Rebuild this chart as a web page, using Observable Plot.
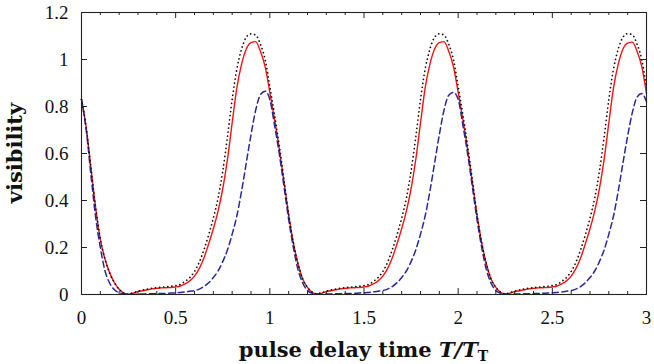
<!DOCTYPE html>
<html>
<head>
<meta charset="utf-8">
<script src="https://cdn.jsdelivr.net/npm/d3@7"></script>
<script src="https://cdn.jsdelivr.net/npm/@observablehq/plot@0.6"></script>
<style>
  html, body { margin: 0; padding: 0; background: #fff; }
</style>
</head>
<body>
<div id="chart"></div>
<script>
// sample spacing of the read-off curves (pulse delay time T/T_T)
const xStep = 0.025;

// solid red curve, values at T/T_T = 0, 0.025, ..., 3
const redVis = [
  0.83, 0.71, 0.54, 0.37, 0.235, 0.15, 0.092, 0.05, 0.022, 0.006,
  0.001, 0.006, 0.012, 0.016, 0.02, 0.024, 0.026, 0.028, 0.029, 0.03,
  0.032, 0.036, 0.045, 0.058, 0.078, 0.11, 0.155, 0.215, 0.28, 0.355,
  0.45, 0.575, 0.73, 0.88, 0.98, 1.045, 1.072, 1.076, 1.035, 0.97,
  0.86, 0.745, 0.62, 0.48, 0.34, 0.22, 0.13, 0.065, 0.03, 0.009,
  0.002, 0.006, 0.012, 0.016, 0.02, 0.024, 0.026, 0.028, 0.029, 0.03,
  0.032, 0.036, 0.045, 0.058, 0.078, 0.11, 0.155, 0.215, 0.28, 0.355,
  0.45, 0.575, 0.73, 0.88, 0.98, 1.045, 1.072, 1.076, 1.035, 0.97,
  0.86, 0.745, 0.62, 0.48, 0.34, 0.22, 0.13, 0.065, 0.03, 0.009,
  0.002, 0.006, 0.012, 0.016, 0.02, 0.024, 0.026, 0.028, 0.029, 0.03,
  0.032, 0.036, 0.045, 0.058, 0.078, 0.11, 0.155, 0.215, 0.28, 0.355,
  0.45, 0.575, 0.73, 0.88, 0.98, 1.045, 1.07, 1.074, 1.035, 0.97,
  0.855
];

// dotted black curve
const blackVis = [
  0.83, 0.71, 0.54, 0.37, 0.235, 0.15, 0.09, 0.05, 0.022, 0.006,
  0.002, 0.008, 0.014, 0.019, 0.023, 0.027, 0.029, 0.031, 0.033, 0.035,
  0.038, 0.043, 0.056, 0.072, 0.098, 0.137, 0.19, 0.253, 0.325, 0.41,
  0.525, 0.67, 0.83, 0.96, 1.045, 1.095, 1.109, 1.104, 1.065, 1.0,
  0.885, 0.765, 0.635, 0.49, 0.34, 0.22, 0.13, 0.065, 0.03, 0.01,
  0.003, 0.008, 0.014, 0.019, 0.023, 0.027, 0.029, 0.031, 0.033, 0.035,
  0.038, 0.043, 0.056, 0.072, 0.098, 0.137, 0.19, 0.253, 0.325, 0.41,
  0.525, 0.67, 0.83, 0.96, 1.045, 1.095, 1.109, 1.104, 1.065, 1.0,
  0.885, 0.765, 0.635, 0.49, 0.34, 0.22, 0.13, 0.065, 0.03, 0.01,
  0.003, 0.008, 0.014, 0.019, 0.023, 0.027, 0.029, 0.031, 0.033, 0.035,
  0.038, 0.043, 0.056, 0.072, 0.098, 0.137, 0.19, 0.253, 0.325, 0.41,
  0.525, 0.67, 0.83, 0.96, 1.045, 1.095, 1.11, 1.105, 1.065, 1.0,
  0.88
];

// dashed blue curve
const blueVis = [
  0.83, 0.70, 0.51, 0.33, 0.2, 0.1, 0.048, 0.02, 0.008, 0.003,
  0.001, 0.001, 0.002, 0.002, 0.003, 0.003, 0.004, 0.004, 0.005, 0.006,
  0.007, 0.009, 0.011, 0.014, 0.017, 0.023, 0.034, 0.05, 0.072, 0.1,
  0.14, 0.19, 0.257, 0.335, 0.44, 0.56, 0.68, 0.785, 0.85, 0.865,
  0.83, 0.72, 0.6, 0.46, 0.32, 0.2, 0.105, 0.048, 0.017, 0.005,
  0.002, 0.001, 0.002, 0.002, 0.003, 0.003, 0.004, 0.004, 0.005, 0.006,
  0.007, 0.009, 0.011, 0.014, 0.017, 0.023, 0.034, 0.05, 0.072, 0.1,
  0.14, 0.19, 0.257, 0.335, 0.44, 0.56, 0.68, 0.785, 0.848, 0.86,
  0.83, 0.72, 0.6, 0.46, 0.32, 0.2, 0.105, 0.048, 0.017, 0.005,
  0.002, 0.001, 0.002, 0.002, 0.003, 0.003, 0.004, 0.004, 0.005, 0.006,
  0.007, 0.009, 0.011, 0.014, 0.017, 0.023, 0.034, 0.05, 0.072, 0.1,
  0.14, 0.19, 0.257, 0.335, 0.44, 0.56, 0.675, 0.775, 0.84, 0.855,
  0.82
];

const xTickValues = [0, 0.5, 1, 1.5, 2, 2.5, 3];
const xTickLabels = ["0", "0.5", "1", "1.5", "2", "2.5", "3"];
const xMinorTicks = [0.1, 0.2, 0.3, 0.4, 0.6, 0.7, 0.8, 0.9, 1.1, 1.2, 1.3, 1.4,
  1.6, 1.7, 1.8, 1.9, 2.1, 2.2, 2.3, 2.4, 2.6, 2.7, 2.8, 2.9];
const yTickValues = [0, 0.2, 0.4, 0.6, 0.8, 1, 1.2];
const yTickLabels = ["0", "0.2", "0.4", "0.6", "0.8", "1", "1.2"];

const W = 654, H = 364;
const mL = 81, mR = 8, mT = 12, mB = 70;
const innerW = W - mL - mR, innerH = H - mT - mB;

const toRows = arr => arr.map((v, i) => ({t: i * xStep, v}));
const redRows = toRows(redVis);
const blackRows = toRows(blackVis);
const blueRows = toRows(blueVis);

const axisColor = "#222";

const plot = Plot.plot({
  width: W,
  height: H,
  marginLeft: mL,
  marginRight: mR,
  marginTop: mT,
  marginBottom: mB,
  style: "background: #fff;",
  x: {domain: [0, 3], label: null},
  y: {domain: [0, 1.2], label: null},
  marks: [
    Plot.line(redRows, {x: "t", y: "v", stroke: "#ff1010", strokeWidth: 1.4, curve: "monotone-x"}),
    Plot.line(blueRows, {x: "t", y: "v", stroke: "#28289a", strokeWidth: 1.5, strokeDasharray: "6 3.6", curve: "monotone-x"}),
    Plot.line(blackRows, {x: "t", y: "v", stroke: "#111", strokeWidth: 1.7, strokeDasharray: "0.1 4", strokeLinecap: "round", curve: "monotone-x"}),
    // inward ticks
    Plot.ruleX(xMinorTicks, {x: d => d, stroke: axisColor, strokeWidth: 1, insetTop: innerH - 3}),
    Plot.ruleX(xMinorTicks, {x: d => d, stroke: axisColor, strokeWidth: 1, insetBottom: innerH - 3}),
    Plot.ruleX(xTickValues, {x: d => d, stroke: axisColor, strokeWidth: 1, insetTop: innerH - 6}),
    Plot.ruleX(xTickValues, {x: d => d, stroke: axisColor, strokeWidth: 1, insetBottom: innerH - 6}),
    Plot.ruleY(yTickValues, {y: d => d, stroke: axisColor, strokeWidth: 1, insetRight: innerW - 6}),
    Plot.ruleY(yTickValues, {y: d => d, stroke: axisColor, strokeWidth: 1, insetLeft: innerW - 6}),
    Plot.frame({stroke: axisColor, strokeWidth: 1.1}),
    Plot.axisX({ticks: xTickValues, tickSize: 0, tickPadding: 16, label: null,
      tickFormat: d => xTickLabels[xTickValues.indexOf(d)], fill: "#111"}),
    Plot.axisY({ticks: yTickValues, tickSize: 0, tickPadding: 13, label: null,
      tickFormat: d => yTickLabels[yTickValues.indexOf(d)], fill: "#111"})
  ]
});

const svg = d3.select(plot);
// tick labels: serif face, set directly on every text element
svg.selectAll("text")
  .attr("font-family", "Liberation Serif")
  .attr("font-size", 19)
  .style("font-family", "'Liberation Serif'")
  .style("font-size", "19px");

const titleFont = "DejaVu Serif";

// x-axis title with italic T/T and upright subscript T
const xt = svg.append("text")
  .attr("x", mL + innerW / 2)
  .attr("y", 357)
  .attr("text-anchor", "middle")
  .attr("font-family", titleFont)
  .attr("font-weight", "bold")
  .attr("font-size", 21)
  .attr("fill", "#111");
xt.append("tspan").text("pulse delay time ");
xt.append("tspan").attr("font-style", "italic").text("T/T");
xt.append("tspan").attr("font-size", 14).attr("dy", 4).text("T");

// y-axis title
svg.append("text")
  .attr("transform", `translate(22,${mT + innerH / 2}) rotate(-90)`)
  .attr("text-anchor", "middle")
  .attr("font-family", titleFont)
  .attr("font-weight", "bold")
  .attr("font-size", 21)
  .attr("fill", "#111")
  .text("visibility");

document.getElementById("chart").appendChild(plot);
</script>
</body>
</html>
